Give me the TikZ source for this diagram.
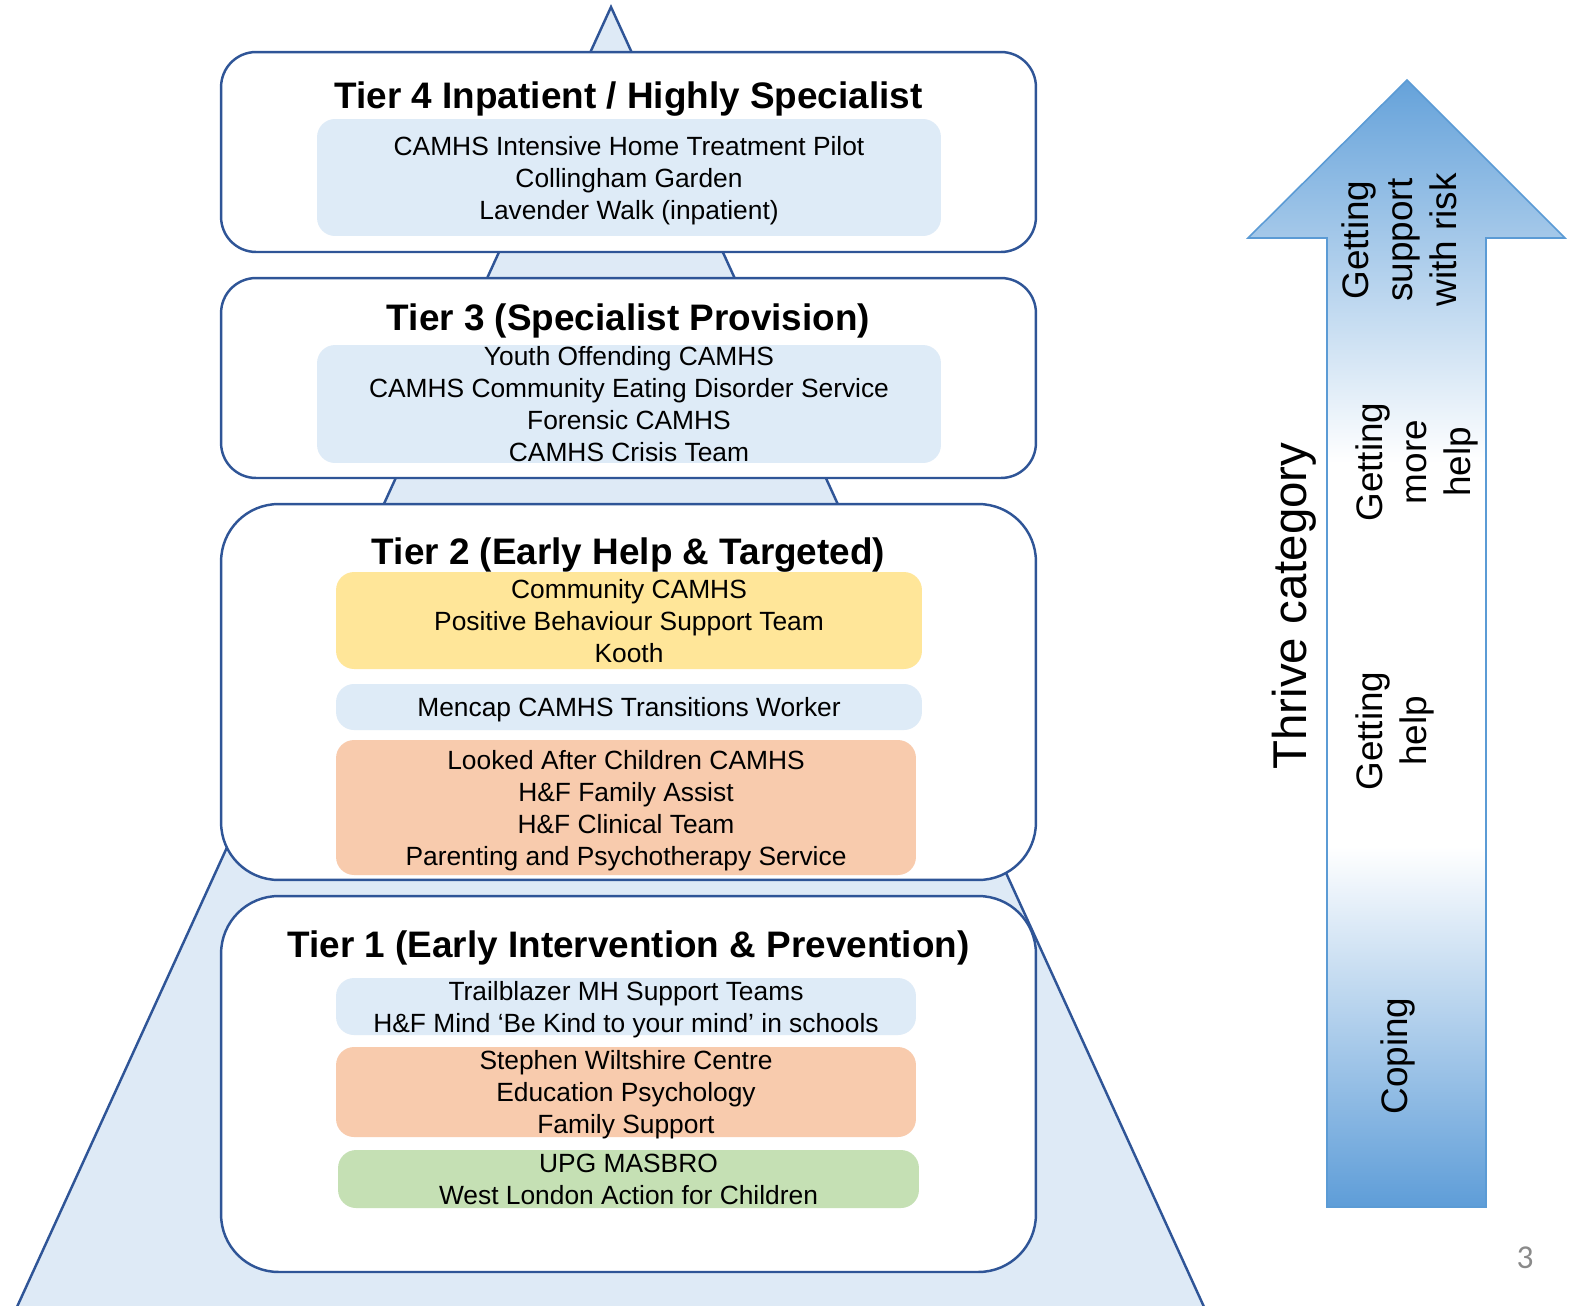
\documentclass[tikz,border=0pt]{standalone}
\usepackage{fontspec}
\setmainfont{Liberation Sans}
\newfontfamily\pagenumfont{Carlito}
\definecolor{tierline}{HTML}{2F5597}
\definecolor{paleblue}{HTML}{DEEBF7}
\definecolor{pyramidfill}{HTML}{DEEAF6}
\definecolor{softyellow}{HTML}{FFE699}
\definecolor{softorange}{HTML}{F8CBAD}
\definecolor{softgreen}{HTML}{C5E0B4}
\definecolor{arrowtop}{HTML}{65A2DA}
\definecolor{arrowbottom}{HTML}{5E9DD8}
\definecolor{arrowline}{HTML}{5B9BD5}
\definecolor{pagegray}{HTML}{8A8A8A}
% vertical fade of the Thrive arrow: blue at both ends, white in the middle
\pgfdeclareverticalshading{thrivefade}{100bp}{%
  color(0bp)=(arrowbottom); color(25bp)=(arrowbottom);
  color(41bp)=(white); color(58bp)=(white);
  color(75bp)=(arrowtop); color(100bp)=(arrowtop)}
\tikzset{
  tierbox/.style={draw=tierline, line width=1.4pt, fill=white,
    minimum width=16.3cm, inner sep=0pt},
  tiertitle/.style={font=\fontsize{21}{25}\selectfont\bfseries, inner sep=0pt},
  service/.style={rounded corners=0.36cm, inner sep=0pt, align=center,
    text depth=0pt, font=\fontsize{15}{18.2}\selectfont},
  thrivelabel/.style={rotate=90, align=center, inner sep=0pt,
    font=\fontsize{21}{25}\selectfont},
}
\begin{document}
\begin{tikzpicture}[x=0.02cm, y=-0.02cm]
\clip (0,0) rectangle (1571,1305);

% pyramid behind the tiers
\draw[tierline, line width=1.4pt, fill=pyramidfill]
  (611,7) -- (11,1320) -- (1210,1320) -- cycle;

% tier boxes
\node[tierbox, rounded corners=0.7cm, minimum height=4cm] (t4) at (628.5,152) {};
\node[tierbox, rounded corners=0.7cm, minimum height=4cm] (t3) at (628.5,378) {};
\node[tierbox, rounded corners=1.15cm, minimum height=7.52cm] (t2) at (628.5,692) {};
\node[tierbox, rounded corners=1.15cm, minimum height=7.52cm] (t1) at (628.5,1084) {};

% tier titles
\node[tiertitle, anchor=base] (t4title) at (628.5,108) {Tier 4 Inpatient / Highly Specialist};
\node[tiertitle, anchor=base] (t3title) at (628.5,330) {Tier 3 (Specialist Provision)};
\node[tiertitle, anchor=base] (t2title) at (628.5,564) {Tier 2 (Early Help \& Targeted)};
\node[tiertitle, anchor=base] (t1title) at (628.5,957) {Tier 1 (Early Intervention \& Prevention)};

% services
\node[service, fill=paleblue, minimum width=12.48cm, minimum height=2.34cm] (s4) at (629,177.5)
  {CAMHS Intensive Home Treatment Pilot\\Collingham Garden\\Lavender Walk (inpatient)};
\node[service, fill=paleblue, minimum width=12.48cm, minimum height=2.36cm] (s3) at (629,404)
  {Youth Offending CAMHS\\CAMHS Community Eating Disorder Service\\Forensic CAMHS\\CAMHS Crisis Team};
\node[service, fill=softyellow, minimum width=11.72cm, minimum height=1.94cm] (s2a) at (629,620.5)
  {Community CAMHS\\Positive Behaviour Support Team\\Kooth};
\node[service, fill=paleblue, minimum width=11.72cm, minimum height=0.92cm] (s2b) at (629,707)
  {Mencap CAMHS Transitions Worker};
\node[service, fill=softorange, minimum width=11.6cm, minimum height=2.7cm] (s2c) at (626,807.5)
  {Looked After Children CAMHS\\H\&F Family Assist\\H\&F Clinical Team\\Parenting and Psychotherapy Service};
\node[service, fill=paleblue, minimum width=11.6cm, minimum height=1.14cm] (s1a) at (626,1006.5)
  {Trailblazer MH Support Teams\\H\&F Mind ‘Be Kind to your mind’ in schools};
\node[service, fill=softorange, minimum width=11.6cm, minimum height=1.8cm] (s1b) at (626,1092)
  {Stephen Wiltshire Centre\\Education Psychology\\Family Support};
\node[service, fill=softgreen, minimum width=11.62cm, minimum height=1.16cm] (s1c) at (628.5,1179)
  {UPG MASBRO\\West London Action for Children};

% Thrive arrow
\draw[arrowline, line width=0.9pt, shading=thrivefade]
  (1327,1207) -- (1327,238) -- (1248,238) -- (1407,80) -- (1565,238)
  -- (1486,238) -- (1486,1207) -- cycle;

\node[rotate=90, anchor=base, inner sep=0pt, font=\fontsize{27}{32}\selectfont]
  (thrive) at (1306,606) {Thrive category};
\node[thrivelabel] (risk) at (1399,240) {Getting\\support\\with risk};
\node[thrivelabel] (more) at (1417,462) {Getting\\more\\help};
\node[thrivelabel] (help) at (1395,731) {Getting\\help};
\node[thrivelabel] (coping) at (1398,1056) {Coping};

% page number
\node[anchor=base, inner sep=0pt, text=pagegray, font=\pagenumfont\fontsize{19}{22}\selectfont]
  (pagenum) at (1525,1268) {3};
\end{tikzpicture}
\end{document}
